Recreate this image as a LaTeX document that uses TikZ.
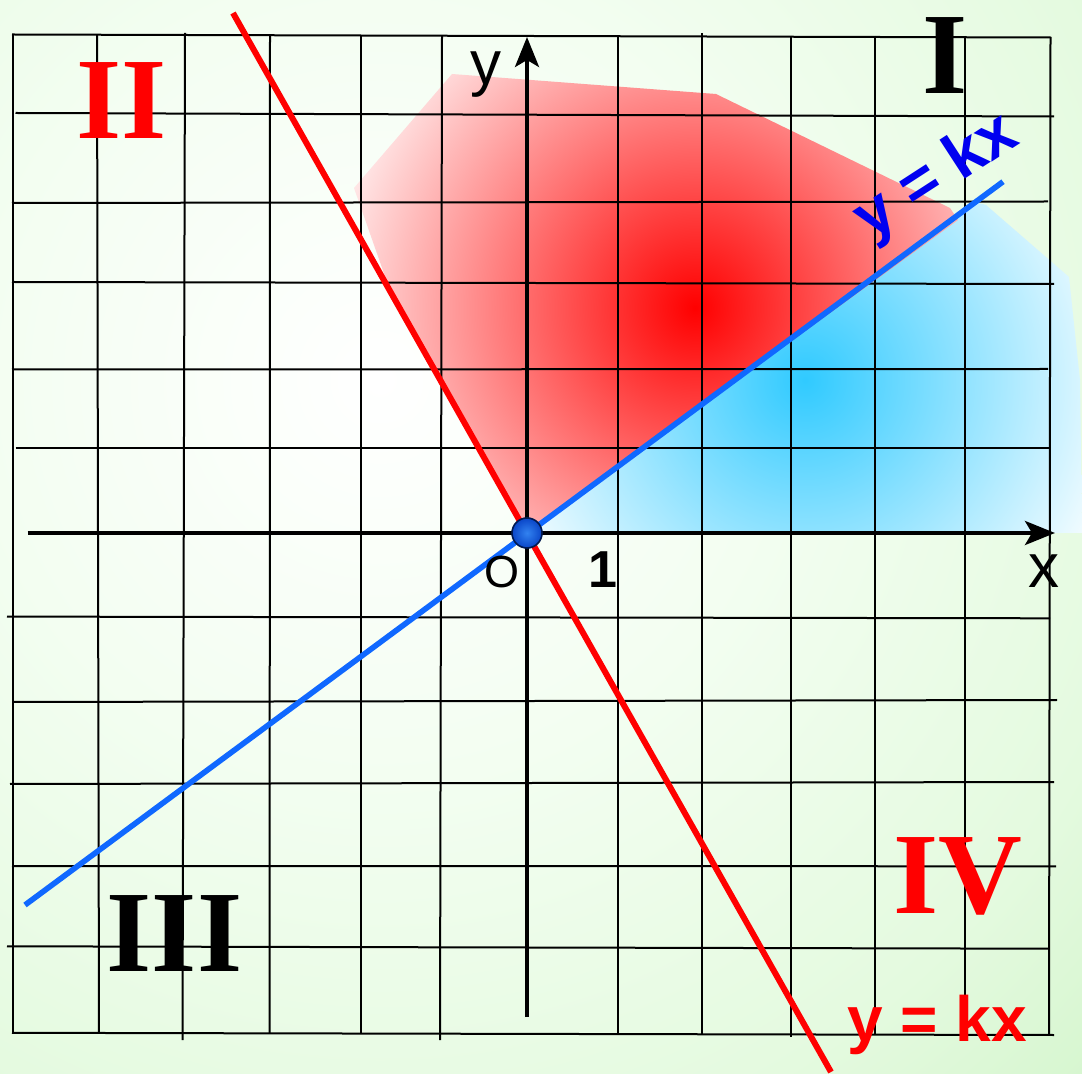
\documentclass[tikz,border=0pt]{standalone}
\usepackage{fontspec}
\setmainfont{Liberation Serif}
\newfontfamily\arialf{Liberation Sans}
\usetikzlibrary{arrows.meta}
\definecolor{bgB}{RGB}{243,254,241}
\definecolor{bgC}{RGB}{228,250,223}
\definecolor{bgD}{RGB}{214,246,207}
\definecolor{skyc}{RGB}{48,202,255}
\definecolor{lineblue}{RGB}{16,104,255}
\definecolor{txtblue}{RGB}{0,0,240}
\definecolor{dotin}{RGB}{50,130,240}
\definecolor{dotout}{RGB}{10,70,200}
\definecolor{dotrim}{RGB}{0,25,80}
\pgfdeclareradialshading{bgglow}{\pgfpoint{0bp}{0bp}}{color(0bp)=(white); color(10bp)=(bgB); color(20bp)=(bgC); color(25bp)=(bgD); color(50bp)=(bgD)}
\pgfdeclareradialshading{redglow}{\pgfpoint{0bp}{0bp}}{color(0bp)=(red); color(25bp)=(white); color(50bp)=(white)}
\pgfdeclareradialshading{blueglow}{\pgfpoint{0bp}{0bp}}{color(0bp)=(skyc); color(25bp)=(white); color(50bp)=(white)}
\begin{document}
\begin{tikzpicture}[x=0.5pt,y=-0.5pt,
  gridline/.style={black, line width=1pt},
  axisline/.style={black, line width=2pt, -{Stealth[length=15pt,width=12pt,inset=3.5pt]}},
  redline/.style={red, line width=3pt},
  blueline/.style={lineblue, line width=2.8pt},
  numeral/.style={font=\fontsize{58}{58}\selectfont\bfseries, inner sep=0pt, anchor=base},
  eqlabel/.style={font=\arialf\fontsize{32}{32}\selectfont\bfseries, inner sep=0pt, anchor=base},
  axislabel/.style={font=\arialf\fontsize{31}{31}\selectfont, inner sep=0pt, anchor=base},
  dotstyle/.style={circle, minimum size=15pt, inner sep=0pt, draw=dotrim, line width=0.8pt, inner color=dotin, outer color=dotout}
  ]
\useasboundingbox (0,0) rectangle (1082,1074);
% background
\begin{scope}
  \clip (0,0) rectangle (1082,1074);
  \shade[shading=bgglow] (380,380) circle[radius=1000];
\end{scope}
% blue region
\begin{scope}
  \clip (527,533) -- (975,202) -- (986,205) -- (1069,277) -- (1080,380) -- (1082,533) -- cycle;
  \shade[shading=blueglow] (805,380) circle[radius=340];
\end{scope}
% red region
\begin{scope}
  \clip (452,74) -- (716,94) -- (950,208) -- (958,220) -- (527,533) -- (387,282) -- (354,188) -- cycle;
  \shade[shading=redglow] (695,308) circle[radius=400];
\end{scope}
% grid
\foreach \xa/\xb/\ya/\yb in {12.5/12.5/34.5/1033, 97/99/34.5/1033, 185/182.5/33/1040, 270/269.6/35/1033, 360.5/360.5/35/1034, 442/440/36/1040, 618/618/36/1034, 702/702/33/1035, 791/791/36/1037, 875/875/36/1035, 965/965/36/1035, 1050.5/1049/37/1035}
  \draw[gridline] (\xa,\ya) -- (\xb,\yb);
\foreach \ya/\yb/\xa/\xb in {34.5/37.5/12/1050.5, 113/116.5/15.5/1054, 203/201.5/12/1048, 282/284/12/1054, 369.5/369/12/1048, 448/448/15.5/1050, 616.6/618.3/7/1050, 702/700/12.7/1057, 784/782/10/1054, 866/866.3/12/1056, 946.3/948.7/7/1048, 1032.8/1035/12/1054}
  \draw[gridline] (\xa,\ya) -- (\xb,\yb);
% axes
\coordinate (O) at (527,533);
\coordinate (xl) at (27.5,533);
\coordinate (xr) at (1055,533);
\coordinate (yb) at (527,1017);
\coordinate (yt) at (527,37);
\draw[axisline] (xl) -- (xr);
\draw[axisline] (yb) -- (yt);
% lines
\coordinate (rtop) at (233,13);
\coordinate (rbot) at (831,1072);
\coordinate (bl) at (25,905);
\coordinate (br) at (1003,181.7);
\draw[redline] (rtop) -- (rbot);
\draw[blueline] (bl) -- (br);
\node[dotstyle] (dot) at (O) {};
% labels
\node[numeral, text=red] (qII) at (121.5,139) {II};
\node[numeral, text=black] (qI) at (945,94) {I};
\node[numeral, text=black] (qIII) at (174.5,971) {III};
\node[numeral, text=red] (qIV) at (958,913) {IV};
\node[eqlabel, text=txtblue, rotate=33] (eqb) at (946,192) {y = kx};
\node[eqlabel, text=red] (eqr) at (937,1041) {y = kx};
\node[axislabel] (ylab) at (486,85) {y};
\node[axislabel] (xlab) at (1044,588) {x};
\node[axislabel, font=\arialf\fontsize{22.5}{22.5}\selectfont] (olab) at (502,588) {O};
\node[axislabel, font=\arialf\fontsize{26}{26}\selectfont\bfseries] (one) at (603,588) {1};
\end{tikzpicture}
\end{document}
